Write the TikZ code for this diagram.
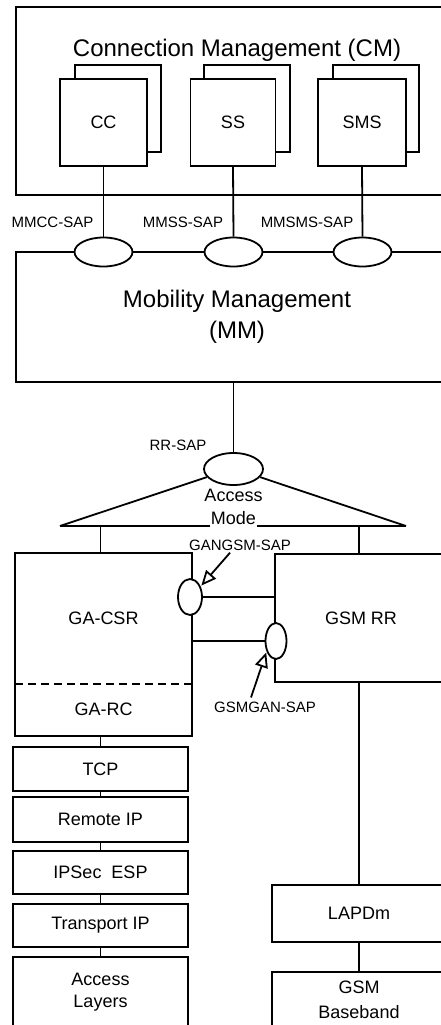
\documentclass[tikz,border=0pt]{standalone}
\usepackage{fontspec}
\setmainfont{Liberation Sans}
\usetikzlibrary{shapes.geometric,arrows.meta,calc}
\begin{document}
\begin{tikzpicture}[x=1pt,y=-1pt,line width=1.8pt,
  box/.style={draw,rectangle,inner sep=0pt,fill=white},
  plain/.style={rectangle,inner sep=0pt},
  big/.style={font=\fontsize{24}{31}\selectfont},
  mid/.style={font=\fontsize{18}{22}\selectfont},
  small/.style={font=\fontsize{15}{18}\selectfont},
  sap/.style={draw,ellipse,inner sep=0pt,fill=white},
  tip/.style={-{Triangle[open,length=15pt,width=13pt]},shorten >=1pt}]
\useasboundingbox (0,0) rectangle (441,1025);
\clip (0,0) rectangle (441,1025);
% Connection Management
\node[box,minimum width=442,minimum height=188] (cm) at (237,101) {};
\node[big] (cmt) at (237,50) {Connection Management (CM)};
\node[box,minimum width=86,minimum height=87] (ccb) at (118,108.5) {};
\node[box,mid,minimum width=87,minimum height=87] (cc) at (103.5,122.5) {CC};
\node[box,minimum width=86,minimum height=87] (ssb) at (247,108.5) {};
\node[box,mid,minimum width=85,minimum height=87] (ss) at (233,122.5) {SS};
\node[box,minimum width=86,minimum height=87] (smsb) at (376,108.5) {};
\node[box,mid,minimum width=88,minimum height=87] (sms) at (362,122.5) {SMS};
% Mobility Management
\node[box,big,align=center,minimum width=442,minimum height=130] (mm) at (237,317) {Mobility Management\\(MM)};
\node[sap,minimum width=58,minimum height=29] (e1) at (103.5,252) {};
\node[sap,minimum width=58,minimum height=29] (e2) at (233.5,252) {};
\node[sap,minimum width=58,minimum height=29] (e3) at (362.5,252) {};
\draw (cc.south) -- (e1.north);
\draw (ss.south) -- (e2.north);
\draw (sms.south) -- (e3.north);
\node[small] (l1) at (52.5,222) {MMCC-SAP};
\node[small] (l2) at (183,222) {MMSS-SAP};
\node[small] (l3) at (307,222) {MMSMS-SAP};
% RR-SAP and access mode
\node[sap,minimum width=59,minimum height=32] (rr) at (233.5,469) {};
\node[small] (lrr) at (178,445) {RR-SAP};
\draw (mm.south -| rr.north) -- (rr.north);
\coordinate (tl) at (60,526);
\coordinate (tr) at (406,526);
\draw (rr.197) -- (tl);
\draw (rr.343) -- (tr);
\node[mid] (acc) at (233.5,495) {Access};
\node[mid,inner xsep=0pt] (mode) at (233.5,518) {Mode};
\draw (tl) -- (mode.west |- tl);
\draw (mode.east |- tl) -- (tr);
% GA-CSR and GA-RC
\node[plain,mid,minimum width=175,minimum height=129] (gacsr) at (103.5,618.5) {GA-CSR};
\draw (gacsr.south west) -- (gacsr.north west) -- (gacsr.north east) -- (gacsr.south east);
\draw[dash pattern=on 8pt off 5pt] (gacsr.south west) -- (gacsr.south east);
\node[plain,mid,minimum width=175,minimum height=52] (garc) at (103.5,709) {GA-RC};
\draw (garc.north west) -- (garc.south west) -- (garc.south east) -- (garc.north east);
% GSM RR
\node[box,mid,minimum width=172,minimum height=128] (gsmrr) at (361,618) {GSM RR};
% left stack
\node[box,mid,minimum width=175,minimum height=44] (tcp) at (100.5,769) {TCP};
\node[box,mid,minimum width=175,minimum height=45] (rip) at (100.5,819.5) {Remote IP};
\node[box,mid,minimum width=175,minimum height=43] (esp) at (100.5,872.5) {IPSec\ \ ESP};
\node[box,mid,minimum width=175,minimum height=43] (tip) at (100.5,925.5) {Transport IP};
\node[box,mid,align=center,minimum width=175,minimum height=70] (al) at (100.5,992) {Access\\Layers};
% right stack
\node[box,mid,minimum width=174,minimum height=57] (lapdm) at (359,913.5) {LAPDm};
\node[box,font=\fontsize{18}{25}\selectfont,align=center,minimum width=174,minimum height=55] (bb) at (359,999.5) {GSM\\Baseband};
% connectors from access mode
\draw (tcp.north |- tl) -- (tcp.north |- gacsr.north);
\draw (lapdm.north |- tl) -- (lapdm.north |- gsmrr.north);
% SAPs between GA-CSR and GSM RR
\node[sap,minimum width=24,minimum height=36] (ga) at (190,597) {};
\node[sap,minimum width=21,minimum height=36] (gs) at (276,641) {};
\draw (ga.east) -- (ga.east -| gsmrr.west);
\draw (gs.west) -- (gs.west -| gacsr.east);
\node[small,fill=white,inner sep=1.5pt] (lga) at (240,545) {GANGSM-SAP};
\node[small] (lgs) at (265,707) {GSMGAN-SAP};
\draw[tip] ($(lga.south)+(-10,0)$) -- (ga.45);
\draw[tip] ($(lgs.north)+(-14,0)$) -- (gs.228);
% stack connectors
\draw (garc.south -| tcp.north) -- (tcp.north);
\draw (tcp.south) -- (rip.north);
\draw (rip.south) -- (esp.north);
\draw (esp.south) -- (tip.north);
\draw (tip.south) -- (al.north);
\draw (gsmrr.south -| lapdm.north) -- (lapdm.north);
\draw (lapdm.south) -- (bb.north);
\end{tikzpicture}
\end{document}
